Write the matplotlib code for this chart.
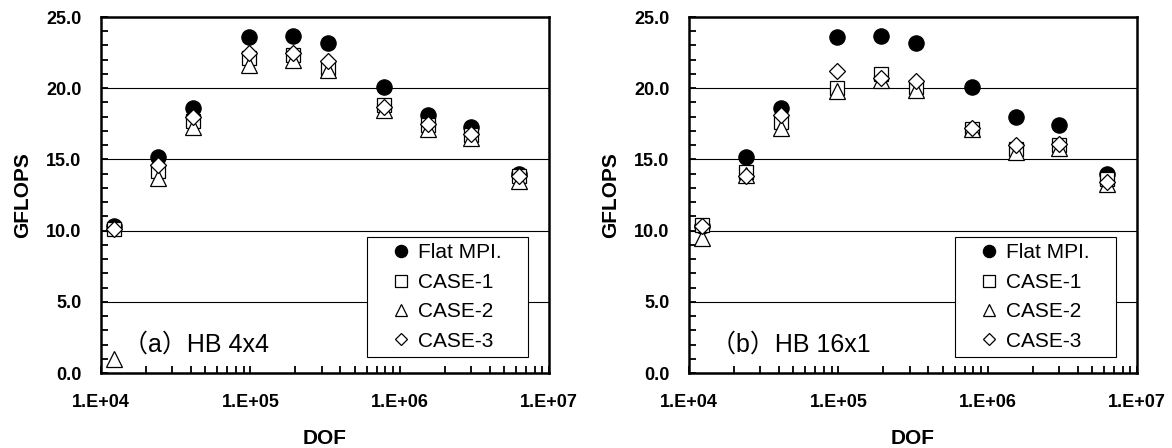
import numpy as np
import matplotlib
matplotlib.use("Agg")
import matplotlib.pyplot as plt
from matplotlib.ticker import MultipleLocator, FixedLocator, LogLocator, NullFormatter, FuncFormatter

# DOF (3 x N^3)
dof = [12288, 24000, 41472, 98304, 192000, 331776, 786432, 1536000, 3000000, 6291456]

# (a) HB 4x4
a_flat = [10.3, 15.2, 18.6, 23.6, 23.7, 23.2, 20.1, 18.1, 17.3, 14.0]
a_case1 = [10.1, 14.2, 17.7, 22.1, 22.3, 21.4, 18.8, 17.4, 16.7, 13.8]
a_case2 = [1.0, 13.7, 17.3, 21.6, 22.0, 21.3, 18.5, 17.1, 16.5, 13.5]
a_case3 = [10.1, 14.6, 18.0, 22.5, 22.5, 21.9, 18.7, 17.5, 16.8, 13.8]

# (b) HB 16x1
b_flat = [10.3, 15.2, 18.6, 23.6, 23.7, 23.2, 20.1, 18.0, 17.4, 14.0]
b_case1 = [10.4, 14.1, 17.6, 20.0, 21.0, 20.1, 17.1, 15.7, 16.0, 13.6]
b_case2 = [9.5, 13.9, 17.2, 19.8, 20.6, 19.9, 17.1, 15.5, 15.8, 13.3]
b_case3 = [10.3, 13.8, 18.1, 21.2, 20.7, 20.5, 17.2, 16.0, 16.1, 13.4]

labels = ["Flat MPI.", "CASE-1", "CASE-2", "CASE-3"]
titles = ["（a）HB 4x4", "（b）HB 16x1"]

plt.rcParams["font.family"] = ["Liberation Sans", "DejaVu Sans"]

fig = plt.figure(figsize=(11.72, 4.48), dpi=100)
ax1 = fig.add_axes([101 / 1172, 75 / 448, 448 / 1172, 356 / 448])
ax2 = fig.add_axes([689 / 1172, 75 / 448, 448 / 1172, 356 / 448])

panels = [
    (ax1, [a_flat, a_case1, a_case2, a_case3], titles[0]),
    (ax2, [b_flat, b_case1, b_case2, b_case3], titles[1]),
]

styles = [
    dict(marker="o", markersize=11, markerfacecolor="black"),
    dict(marker="s", markersize=10.5, markerfacecolor="white"),
    dict(marker="^", markersize=11, markerfacecolor="white"),
    dict(marker="D", markersize=8.2, markerfacecolor="white"),
]


def exp_fmt(v, pos):
    return "1.E+%02d" % int(round(np.log10(v)))


for ax, series, title in panels:
    for i, (vals, lab, st) in enumerate(zip(series, labels, styles)):
        ax.plot(dof, vals, linestyle="none", markeredgecolor="black",
                markeredgewidth=0.9, label=lab, zorder=3 + i, **st)

    ax.set_xscale("log")
    ax.set_xlim(1e4, 1e7)
    ax.set_ylim(0, 25)

    ax.yaxis.set_major_locator(MultipleLocator(5))
    ax.yaxis.set_minor_locator(MultipleLocator(1))
    ax.yaxis.set_major_formatter(FuncFormatter(lambda v, p: "%.1f" % v))
    ax.xaxis.set_major_locator(FixedLocator([1e4, 1e5, 1e6, 1e7]))
    ax.xaxis.set_minor_locator(LogLocator(base=10, subs=np.arange(2, 10)))
    ax.xaxis.set_major_formatter(FuncFormatter(exp_fmt))
    ax.xaxis.set_minor_formatter(NullFormatter())

    ax.tick_params(which="both", direction="in", length=5, width=1.3,
                   top=False, right=False)
    ax.tick_params(axis="x", which="major", pad=15)
    ax.tick_params(axis="y", which="major", pad=14)
    for lab_ in ax.get_xticklabels() + ax.get_yticklabels():
        lab_.set_fontsize(13)
        lab_.set_fontweight("bold")

    ax.grid(axis="y", which="major", color="black", linewidth=0.8)
    ax.set_axisbelow(True)
    for sp in ax.spines.values():
        sp.set_linewidth(1.8)
        sp.set_zorder(10)

    ax.set_xlabel("DOF", fontsize=15, fontweight="bold", labelpad=13)
    ax.set_ylabel("GFLOPS", fontsize=15, fontweight="bold", labelpad=10)

    ax.text(0.048, 0.079, title, transform=ax.transAxes, fontsize=18,
            va="center", ha="left", family=["Liberation Sans", "Noto Sans CJK JP"])

    leg = ax.legend(loc="lower left", bbox_to_anchor=(0.594, 0.045, 0.359, 0.3),
                    mode="expand", borderaxespad=0, fontsize=15, markerscale=0.8,
                    handlelength=2.7, handletextpad=-0.55, borderpad=0.3,
                    labelspacing=0.5, fancybox=False, framealpha=1,
                    edgecolor="black")
    leg.get_frame().set_linewidth(0.8)
    leg.set_zorder(20)

fig.savefig("out.png", dpi=100)
